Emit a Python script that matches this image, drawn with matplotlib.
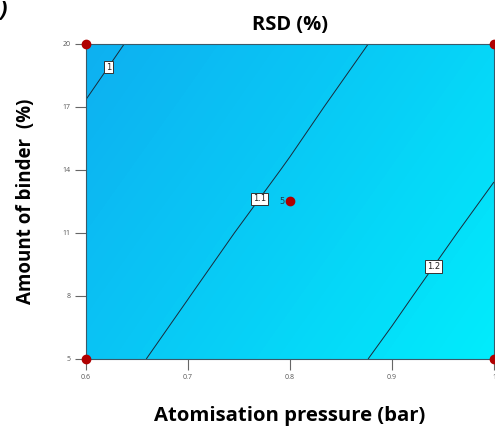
import numpy as np
import matplotlib
matplotlib.use('Agg')
import matplotlib.pyplot as plt
from matplotlib.colors import LinearSegmentedColormap

# RSD (%) values, grid of pressure x binder
pressure = [0.6, 0.7, 0.8, 0.9, 1.0]
binder = [5, 8, 11, 14, 17, 20]
rsd = [
    [1.074, 1.118, 1.164, 1.211, 1.260],   # binder 5
    [1.056, 1.099, 1.144, 1.190, 1.239],   # binder 8
    [1.038, 1.080, 1.124, 1.170, 1.217],   # binder 11
    [1.020, 1.061, 1.104, 1.150, 1.196],   # binder 14
    [1.002, 1.043, 1.085, 1.130, 1.176],   # binder 17
    [0.985, 1.025, 1.067, 1.110, 1.156],   # binder 20
]
contour_levels = [1.0, 1.1, 1.2]
label_pos = [(0.619, 19.0), (0.768, 12.7), (0.938, 9.5)]

design_x = [0.6, 0.6, 1.0, 1.0, 0.8]
design_y = [5, 20, 5, 20, 12.5]

xticks = [0.6, 0.7, 0.8, 0.9, 1.0]
xticklabels = ['0.6', '0.7', '0.8', '0.9', '1']
yticks = [5, 8, 11, 14, 17, 20]

plt.rcParams['font.family'] = ['Open Sans', 'DejaVu Sans']

fig = plt.figure(figsize=(4.95, 4.38), dpi=100)
ax = fig.add_axes([0.1737, 0.1804, 0.8242, 0.7192])

X, Y = np.meshgrid(pressure, binder)
Z = np.array(rsd)

cmap = LinearSegmentedColormap.from_list('rsd', ['#0eaef0', '#00eefc'])
ax.contourf(X, Y, Z, levels=np.linspace(0.98, 1.265, 60), cmap=cmap)
cs = ax.contour(X, Y, Z, levels=contour_levels, colors='#1a2a3a', linewidths=0.7)
labels = ax.clabel(cs, fmt={1.0: '1', 1.1: '1.1', 1.2: '1.2'}, manual=label_pos,
                   inline=False, fontsize=6, colors='#222222')
for t in labels:
    t.set_rotation(0)
    t.set_family('DejaVu Sans')
    t.set_zorder(6)
    t.set_bbox(dict(facecolor='white', edgecolor='#333333', pad=1.2, linewidth=0.7))

ax.plot(design_x, design_y, 'o', color='#b00000', markersize=6, clip_on=False, zorder=5)
ax.text(0.795, 12.5, '5', fontsize=6, color='#1a4050', ha='right', va='center',
        family='DejaVu Sans')

ax.set_xlim(0.6, 1.0)
ax.set_ylim(5, 20)
ax.set_xticks(xticks)
ax.set_xticklabels(xticklabels)
ax.set_yticks(yticks)
ax.tick_params(axis='both', length=8, width=0.8, color='#666666', labelsize=5,
               labelcolor='#555555', pad=3)
for s in ax.spines.values():
    s.set_color('#3a5a6a')
    s.set_linewidth(0.8)

ax.set_title('RSD (%)', fontsize=14.5, fontweight='bold', pad=10)
ax.set_xlabel('Atomisation pressure (bar)', fontsize=14.6, fontweight='bold', labelpad=18)
ax.set_ylabel('Amount of binder  (%)', fontsize=13.5, fontweight='bold', labelpad=19)

fig.text(0.0, 1.0, ')', fontsize=16, fontweight='bold', ha='left', va='top', style='italic')

fig.savefig('out.png', dpi=100)
